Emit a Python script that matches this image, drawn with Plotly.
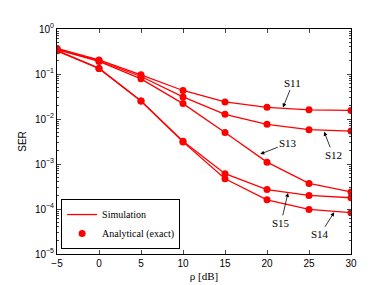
import plotly.graph_objects as go

rho = [-5, 0, 5, 10, 15, 20, 25, 30]
S11 = [0.37, 0.205, 0.096, 0.043, 0.024, 0.0182, 0.016, 0.0155]
S12 = [0.36, 0.197, 0.088, 0.031, 0.0127, 0.0076, 0.0058, 0.0054]
S13 = [0.35, 0.19, 0.078, 0.022, 0.005, 0.0011, 0.00037, 0.00024]
S14 = [0.33, 0.133, 0.025, 0.0031, 0.00047, 0.00016, 0.0000977, 0.000083]
S15 = [0.33, 0.133, 0.025, 0.0032, 0.00061, 0.00027, 0.0002, 0.000178]
series = [S11, S12, S13, S14, S15]

ytick_vals = [1, 0.1, 0.01, 0.001, 0.0001, 0.00001]
ytick_text = ["10<sup>0</sup>", "10<sup>−1</sup>", "10<sup>−2</sup>", "10<sup>−3</sup>",
              "10<sup>−4</sup>", "10<sup>−5</sup>"]
xtick_vals = [-5, 0, 5, 10, 15, 20, 25, 30]
xtick_text = ["−5", "0", "5", "10", "15", "20", "25", "30"]

# annotation labels: (label, x, log10(y), ax, ay)
labels = [
    ("S11", 21.9, -1.746, 10, -25),
    ("S12", 26.8, -2.284, 9, 23),
    ("S13", 19.2, -2.78, 28, -11),
    ("S15", 22.5, -3.642, -7, 30),
    ("S14", 28.0, -4.073, -14, 22),
]

RED = "#ff0000"
fig = go.Figure()
for i, s in enumerate(series):
    fig.add_trace(go.Scatter(x=rho, y=s, mode="lines", line=dict(color=RED, width=1.3),
                             name="Simulation", showlegend=(i == 0)))
for i, s in enumerate(series):
    fig.add_trace(go.Scatter(x=rho, y=s, mode="markers", marker=dict(color=RED, size=7),
                             name="Analytical (exact)", showlegend=(i == 0)))

for lab, x, y, ax, ay in labels:
    fig.add_annotation(x=x, y=y, xref="x", yref="y", text=lab, showarrow=True,
                       ax=ax, ay=ay, arrowhead=2, arrowsize=1, arrowwidth=0.8,
                       arrowcolor="black", standoff=0,
                       font=dict(family="Liberation Serif", size=11, color="black"))

fig.update_layout(
    width=379, height=285,
    margin=dict(l=49, r=36, t=21, b=32),
    paper_bgcolor="white", plot_bgcolor="white",
    font=dict(family="Liberation Sans", size=10, color="black"),
    showlegend=True,
    legend=dict(x=0.014, y=0.022, xanchor="left", yanchor="bottom",
                bgcolor="white", bordercolor="black", borderwidth=1,
                font=dict(family="Liberation Serif", size=10, color="black"),
                tracegroupgap=0, itemwidth=30),
)
fig.update_xaxes(range=[-5, 30], tickvals=xtick_vals, ticktext=xtick_text,
                 ticks="inside", ticklen=4, showline=True, linecolor="black", linewidth=1,
                 mirror="ticks", showgrid=False, zeroline=False,
                 title=dict(text="ρ [dB]", font=dict(family="Liberation Serif", size=11), standoff=4))
fig.update_yaxes(type="log", range=[-5, 0], tickvals=ytick_vals, ticktext=ytick_text,
                 ticks="inside", ticklen=4, showline=True, linecolor="black", linewidth=1,
                 mirror="ticks", showgrid=False, zeroline=False,
                 minor=dict(ticks="inside", ticklen=2, dtick="D1", showgrid=False),
                 title=dict(text="SER", font=dict(family="Liberation Sans", size=10), standoff=6))

fig.write_html("out.html")
